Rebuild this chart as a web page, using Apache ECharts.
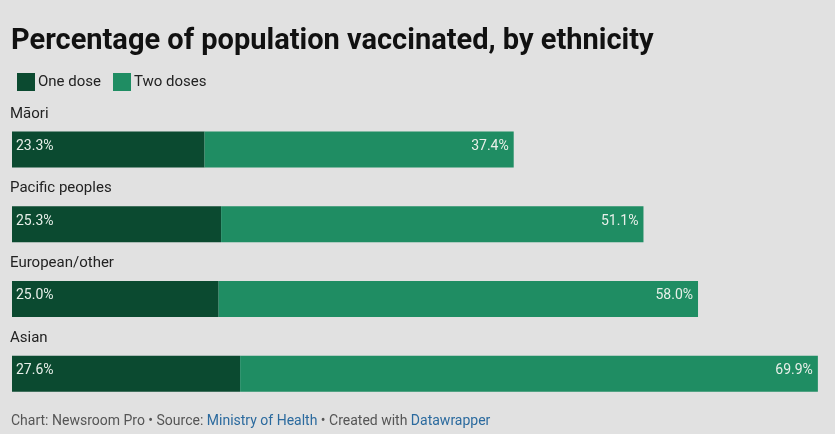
<!DOCTYPE html>
<html>
<head>
<meta charset="utf-8">
<script src="https://cdn.jsdelivr.net/npm/echarts@6/dist/echarts.min.js"></script>
<style>
html,body{margin:0;padding:0;background:#e1e1e1;}
#c{width:835px;height:434px;}
</style>
</head>
<body>
<div id="c"></div>
<script>
const categories = ["Māori", "Pacific peoples", "European/other", "Asian"];
const oneDose = [23.3, 25.3, 25.0, 27.6];
const twoDoses = [37.4, 51.1, 58.0, 69.9];
const seriesNames = ["One dose", "Two doses"];

const chart = echarts.init(document.getElementById('c'));
const font = 'Roboto, "Liberation Sans", sans-serif';
const darkGreen = '#0b4a30';
const lightGreen = '#1f8d63';

chart.setOption({
  backgroundColor: '#e1e1e1',
  animation: false,
  textStyle: { fontFamily: font },
  title: {
    text: 'Percentage of population vaccinated, by ethnicity',
    left: 6, top: 22,
    textStyle: { fontFamily: font, fontSize: 29, fontWeight: 'bold', color: '#111' }
  },
  legend: {
    left: 12, top: 68,
    itemWidth: 18, itemHeight: 18, itemGap: 12,
    icon: 'rect',
    textStyle: { fontFamily: font, fontSize: 15, color: '#222', padding: [0, 0, 0, -2] },
    data: seriesNames
  },
  graphic: [{
    type: 'text', left: 11, top: 414,
    style: {
      text: '{g|Chart: Newsroom Pro • Source: }{b|Ministry of Health}{g| • Created with }{b|Datawrapper}',
      rich: {
        g: { fill: '#555', fontSize: 14, fontFamily: font },
        b: { fill: '#2b6a9e', fontSize: 14, fontFamily: font }
      }
    }
  }],
  grid: { left: 12, right: 13, top: 112, bottom: 23 },
  xAxis: { type: 'value', min: 0, max: 98, show: false },
  yAxis: {
    type: 'category', data: categories, inverse: true,
    axisLine: { show: false }, axisTick: { show: false },
    axisLabel: {
      inside: true, align: 'left', verticalAlign: 'bottom', margin: -2,
      padding: [0, 0, 28, 0],
      fontFamily: font, fontSize: 15, color: '#222'
    }
  },
  series: [
    {
      name: seriesNames[0], type: 'bar', stack: 'a', data: oneDose, barWidth: 36,
      itemStyle: { color: darkGreen },
      label: { show: true, position: 'insideLeft', formatter: p => p.value.toFixed(1) + '%', color: '#e8efe9', fontSize: 14, fontFamily: font, offset: [-1, -3] }
    },
    {
      name: seriesNames[1], type: 'bar', stack: 'a', data: twoDoses, barWidth: 36,
      itemStyle: { color: lightGreen },
      label: { show: true, position: 'insideRight', formatter: p => p.value.toFixed(1) + '%', color: '#e8efe9', fontSize: 14, fontFamily: font, offset: [0, -3] }
    }
  ]
});
</script>
</body>
</html>
